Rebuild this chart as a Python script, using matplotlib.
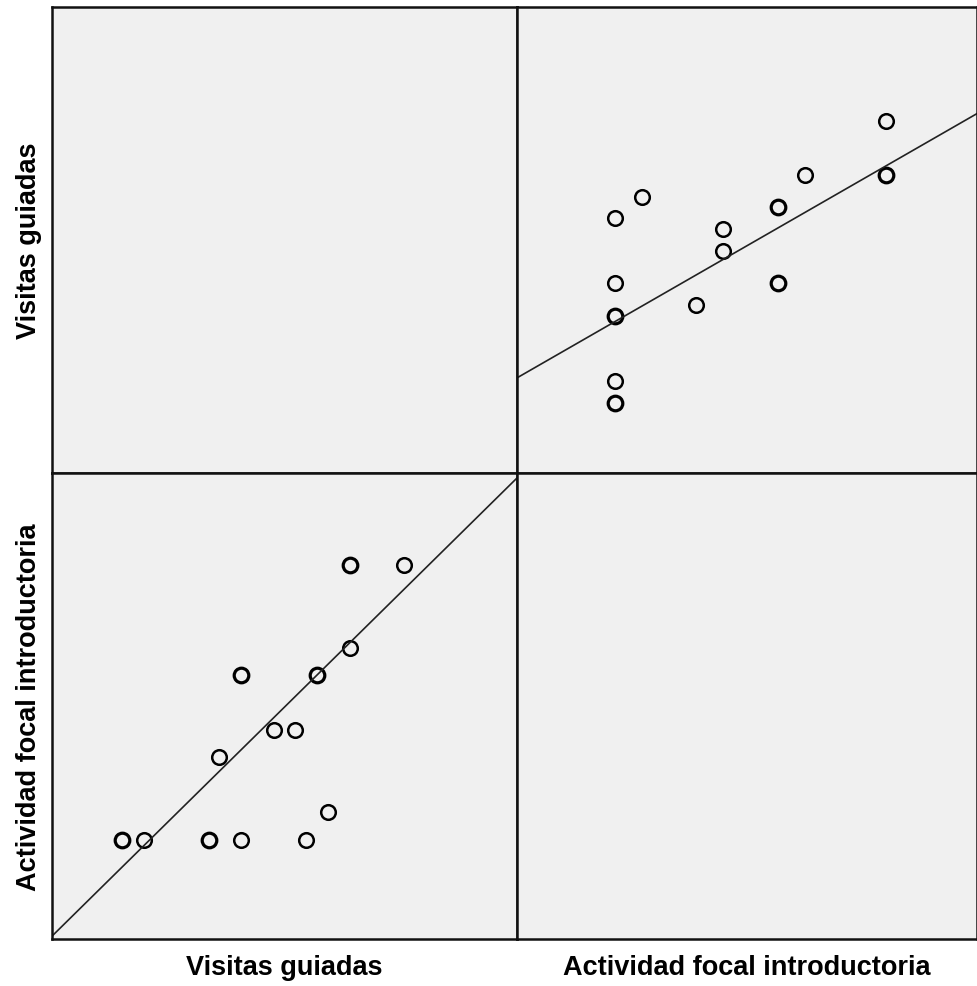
import numpy as np
import pandas as pd
import matplotlib
matplotlib.use('Agg')
import matplotlib.pyplot as plt

# data, one entry per case (repeated cases sit on the same spot)
actividad = [10, 10, 10, 10, 7, 6, 6, 6, 6, 6, 6, 4, 4, 3, 1, 0, 0, 0, 0, 0, 0, 0]
visitas = [26, 21, 21, 21, 21, 11, 11, 11, 18, 18, 18, 14, 16, 9, 19, 0, 0, 2, 8, 8, 11, 17]
labels = ['Visitas guiadas', 'Actividad focal introductoria']

df = pd.DataFrame({'act': actividad, 'vis': visitas})
pts = df.groupby(['act', 'vis']).size().reset_index(name='n')

fig = plt.figure(figsize=(9.77, 9.87), dpi=100)
fig.patch.set_facecolor('white')

# panel grid in pixels
W, H = 977.0, 987.0
xs = [52, 517, 977]
ys = [8, 474, 940]
axes = {}
for r in range(2):
    for c in range(2):
        ax = fig.add_axes([xs[c] / W, 1 - ys[r + 1] / H,
                           (xs[c + 1] - xs[c]) / W, (ys[r + 1] - ys[r]) / H])
        ax.set_facecolor('#f0f0f0')
        ax.set_xticks([])
        ax.set_yticks([])
        for s in ax.spines.values():
            s.set_linewidth(1.8)
            s.set_color('#111111')
        axes[(r, c)] = ax

act_lim = (-3.62, 13.36)
vis_lim = (-6.45, 36.45)


def panel(ax, x, y, xlim, ylim):
    for xi, yi, n in zip(pts[x], pts[y], pts['n']):
        ax.plot(xi, yi, 'o', mfc='none', mec='black', ms=10.5,
                mew=1.8 if n == 1 else 2.3)
    b = np.polyfit(df[x], df[y], 1)
    ax.plot(xlim, np.polyval(b, xlim), color='#222222', lw=1.2)
    ax.set_xlim(xlim)
    ax.set_ylim(ylim)


panel(axes[(0, 1)], 'act', 'vis', act_lim, vis_lim)
panel(axes[(1, 0)], 'vis', 'act', vis_lim, act_lim)

lab = dict(fontsize=19.5, fontweight='bold', family='Liberation Sans')
fig.text((52 + 517) / 2 / W, 1 - 968 / H, labels[0], ha='center', va='center', **lab)
fig.text((517 + 977) / 2 / W, 1 - 968 / H, labels[1], ha='center', va='center', **lab)
fig.text(29 / W, 1 - 241 / H, labels[0], ha='center', va='center', rotation=90, **lab)
fig.text(29 / W, 1 - 707 / H, labels[1], ha='center', va='center', rotation=90, **lab)

fig.savefig('out.png', dpi=100)
